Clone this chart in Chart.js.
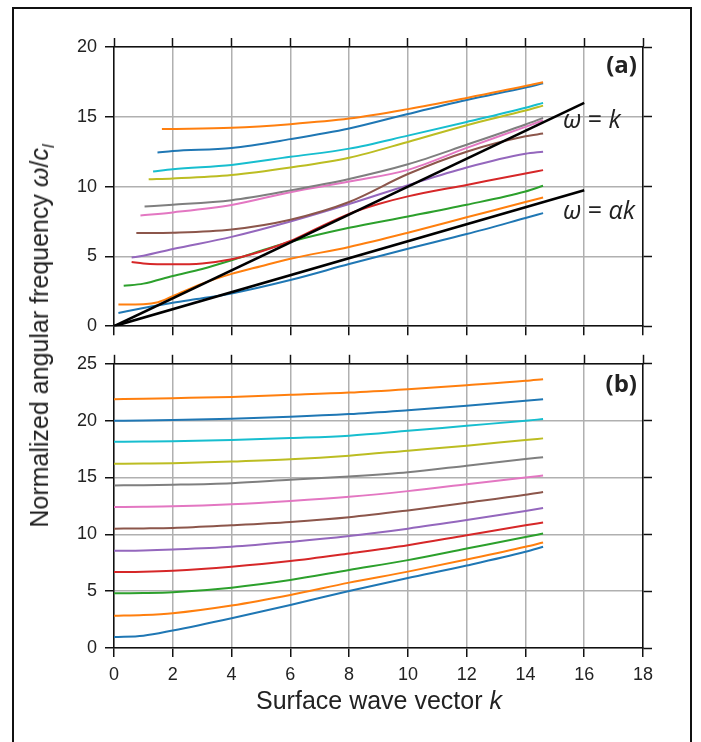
<!DOCTYPE html>
<html>
<head>
<meta charset="utf-8">
<script src="https://cdn.jsdelivr.net/npm/chart.js@4.4.1/dist/chart.umd.min.js"></script>
<style>
  html, body { margin: 0; padding: 0; background: #fff; }
  body { width: 701px; height: 742px; position: relative; overflow: hidden;
         font-family: "Liberation Sans", Arial, sans-serif; color: #222; }
  #frame { position: absolute; left: 12px; top: 7px; width: 680px; height: 745px;
           border: 2px solid #111; box-sizing: border-box; }
  canvas { position: absolute; left: 0; }
  #chartA { top: 0; }
  #chartB { top: 345px; }
  .ylabel { position: absolute; left: 42px; top: 336px; white-space: nowrap; font-size: 25px;
            transform: translate(-50%, -50%) rotate(-90deg); }
  .xlabel { position: absolute; left: 379px; top: 700px; white-space: nowrap; font-size: 25px;
            transform: translate(-50%, -50%); }
  .panel { position: absolute; font-family: "Open Sans", sans-serif; font-weight: bold;
           font-size: 24px; line-height: 1; }
  .note { position: absolute; font-family: "Open Sans", sans-serif; font-size: 25px;
          line-height: 1; white-space: nowrap; }
</style>
</head>
<body>
<div id="frame"></div>
<canvas id="chartA" width="701" height="345"></canvas>
<canvas id="chartB" width="701" height="397"></canvas>
<div class="ylabel">Normalized angular frequency <i>ω</i>/<i>c<sub style="font-size:17px">l</sub></i></div>
<div class="xlabel">Surface wave vector <i>k</i></div>
<div class="panel" style="right:64px; top:52px;">(a)</div>
<div class="panel" style="right:64px; top:371px;">(b)</div>
<div class="note" style="left:563px; top:106px;"><i>ω</i> = <i>k</i></div>
<div class="note" style="left:563px; top:197px;"><i>ω</i> = <i>αk</i></div>

<script>
// axis ticks
const xTicks = [0, 2, 4, 6, 8, 10, 12, 14, 16, 18];
const yTicksA = [0, 5, 10, 15, 20];
const yTicksB = [0, 5, 10, 15, 20, 25];

// panel (a): each branch starts at its own k
const a1K = [0.15, 1, 2, 3, 4, 6, 8, 10, 12, 14, 14.6];
const a1W = [0.95, 1.3, 1.68, 2.0, 2.35, 3.31, 4.45, 5.55, 6.6, 7.75, 8.1];
const a2K = [0.15, 1, 1.5, 2, 3, 4, 5, 6, 8, 10, 12, 14, 14.6];
const a2W = [1.56, 1.58, 1.72, 2.15, 3.05, 3.75, 4.3, 4.83, 5.68, 6.7, 7.8, 8.9, 9.22];
const a3K = [0.33, 1, 2, 3, 4, 5, 6, 8, 10, 12, 14, 14.6];
const a3W = [2.9, 3.05, 3.6, 4.1, 4.72, 5.4, 6.05, 7.05, 7.86, 8.7, 9.65, 10.06];
const a4K = [0.6, 1, 2, 3, 4, 5, 6, 7, 8, 9, 10, 12, 14, 14.6];
const a4W = [4.6, 4.5, 4.43, 4.5, 4.8, 5.35, 6.1, 7.1, 8.05, 8.75, 9.3, 10.12, 10.94, 11.18];
const a5K = [0.6, 1, 2, 4, 6, 8, 10, 12, 14, 14.6];
const a5W = [4.92, 5.05, 5.53, 6.4, 7.5, 8.75, 10.1, 11.37, 12.35, 12.5];
const a6K = [0.76, 2, 4, 6, 8, 10, 12, 14, 14.6];
const a6W = [6.67, 6.7, 6.93, 7.63, 8.9, 10.9, 12.5, 13.6, 13.8];
const a7K = [0.9, 2, 4, 6, 8, 10, 12, 14, 14.6];
const a7W = [7.93, 8.15, 8.68, 9.6, 10.36, 11.2, 12.77, 14.28, 14.75];
const a8K = [1.04, 2, 4, 6, 8, 10, 12, 14, 14.6];
const a8W = [8.58, 8.7, 9.03, 9.73, 10.55, 11.6, 13.0, 14.45, 14.92];
const a9K = [1.18, 2, 4, 6, 8, 10, 12, 14, 14.6];
const a9W = [10.52, 10.58, 10.83, 11.37, 12.07, 13.2, 14.4, 15.45, 15.8];
const a10K = [1.33, 2, 4, 6, 8, 10, 12, 14, 14.6];
const a10W = [11.08, 11.25, 11.55, 12.13, 12.72, 13.65, 14.63, 15.65, 16.0];
const a11K = [1.48, 2, 4, 6, 8, 10, 12, 14, 14.6];
const a11W = [12.44, 12.55, 12.77, 13.4, 14.16, 15.2, 16.2, 17.1, 17.4];
const a12K = [1.63, 2, 4, 6, 8, 10, 12, 14, 14.6];
const a12W = [14.12, 14.13, 14.21, 14.47, 14.87, 15.55, 16.35, 17.2, 17.48];

// light lines
const lineK = [0, 16];
const lineW = [0, 16];     // omega = k
const lineAW = [0, 9.73];  // omega = alpha k

// panel (b): all branches on the same k grid
const kB = [0, 1, 2, 4, 6, 8, 10, 12, 14, 14.6];
const b1 = [0.96, 1.08, 1.54, 2.62, 3.79, 5.02, 6.15, 7.25, 8.46, 8.9];
const b2 = [2.83, 2.9, 3.06, 3.74, 4.67, 5.75, 6.72, 7.78, 8.9, 9.28];
const b3 = [4.81, 4.83, 4.9, 5.31, 5.98, 6.86, 7.73, 8.75, 9.77, 10.07];
const b4 = [6.68, 6.71, 6.8, 7.15, 7.65, 8.32, 9.04, 9.92, 10.79, 11.03];
const b5 = [8.55, 8.58, 8.66, 8.9, 9.33, 9.85, 10.5, 11.25, 12.05, 12.31];
const b6 = [10.5, 10.52, 10.56, 10.8, 11.09, 11.5, 12.1, 12.78, 13.48, 13.72];
const b7 = [12.4, 12.42, 12.46, 12.64, 12.93, 13.3, 13.8, 14.4, 15.0, 15.17];
const b8 = [14.3, 14.32, 14.36, 14.5, 14.8, 15.09, 15.46, 16.04, 16.63, 16.78];
const b9 = [16.2, 16.22, 16.25, 16.4, 16.6, 16.92, 17.36, 17.8, 18.3, 18.44];
const b10 = [18.15, 18.16, 18.18, 18.3, 18.47, 18.68, 19.1, 19.55, 19.99, 20.14];
const b11 = [19.99, 20.01, 20.05, 20.17, 20.34, 20.58, 20.92, 21.3, 21.74, 21.89];
const b12 = [21.89, 21.93, 21.98, 22.09, 22.27, 22.47, 22.77, 23.12, 23.5, 23.65];

const tab = ["#1f77b4", "#ff7f0e", "#2ca02c", "#d62728", "#9467bd",
             "#8c564b", "#e377c2", "#7f7f7f", "#bcbd22", "#17becf"];

function pts(ks, ws) {
  return ks.map((k, i) => ({ x: k, y: ws[i] }));
}

function curve(ks, ws, i) {
  return {
    data: pts(ks, ws),
    borderColor: tab[i % 10],
    borderWidth: 2,
    pointRadius: 0,
    cubicInterpolationMode: "monotone",
    order: 50 - i,
  };
}

function blackLine(ks, ws) {
  return { data: pts(ks, ws), borderColor: "#000", borderWidth: 2.6, pointRadius: 0, order: 0 };
}

function scales(yTicks, sizes, showX) {
  const grid = { color: "#b0b0b0", lineWidth: 1.5, tickColor: "#111", tickLength: 9, tickWidth: 1.5 };
  const frameGrid = { drawOnChartArea: false, tickColor: "#111", tickLength: 9, tickWidth: 1.5 };
  const border = { display: true, color: "#111", width: 1.5 };
  const font = { family: '"Liberation Sans", Arial, sans-serif', size: 18 };
  const xMin = xTicks[0], xMax = xTicks[xTicks.length - 1];
  const yMin = yTicks[0], yMax = yTicks[yTicks.length - 1];
  return {
    x: {
      type: "linear", position: "bottom", min: xMin, max: xMax, grid, border,
      ticks: { stepSize: 2, display: showX, font, color: "#222", padding: 7, maxRotation: 0, autoSkip: false },
      afterFit: (s) => { s.height = sizes.bottom; },
    },
    y: {
      type: "linear", position: "left", min: yMin, max: yMax, grid, border,
      ticks: { stepSize: 5, font, color: "#222", padding: 8 },
      afterFit: (s) => { s.width = sizes.left; },
    },
    xTop: {
      type: "linear", position: "top", min: xMin, max: xMax, grid: frameGrid, border,
      ticks: { stepSize: 2, display: false },
      afterFit: (s) => { s.height = sizes.top; },
    },
    yRight: {
      type: "linear", position: "right", min: yMin, max: yMax, grid: frameGrid, border,
      ticks: { stepSize: 5, display: false },
      afterFit: (s) => { s.width = sizes.right; },
    },
  };
}

const common = {
  responsive: false,
  animation: false,
  plugins: { legend: { display: false }, tooltip: { enabled: false } },
};

const panelA = [
  [a1K, a1W], [a2K, a2W], [a3K, a3W], [a4K, a4W], [a5K, a5W], [a6K, a6W],
  [a7K, a7W], [a8K, a8W], [a9K, a9W], [a10K, a10W], [a11K, a11W], [a12K, a12W],
];

new Chart(document.getElementById("chartA"), {
  type: "line",
  data: {
    datasets: [
      blackLine(lineK, lineW),
      blackLine(lineK, lineAW),
      ...panelA.map((c, i) => curve(c[0], c[1], i)),
    ],
  },
  options: { ...common, scales: scales(yTicksA, { left: 114, right: 58, top: 47, bottom: 13 }, false) },
});

const panelB = [b1, b2, b3, b4, b5, b6, b7, b8, b9, b10, b11, b12];

new Chart(document.getElementById("chartB"), {
  type: "line",
  data: { datasets: panelB.map((w, i) => curve(kB, w, i)) },
  options: { ...common, scales: scales(yTicksB, { left: 114, right: 58, top: 18, bottom: 94 }, true) },
});
</script>
</body>
</html>
